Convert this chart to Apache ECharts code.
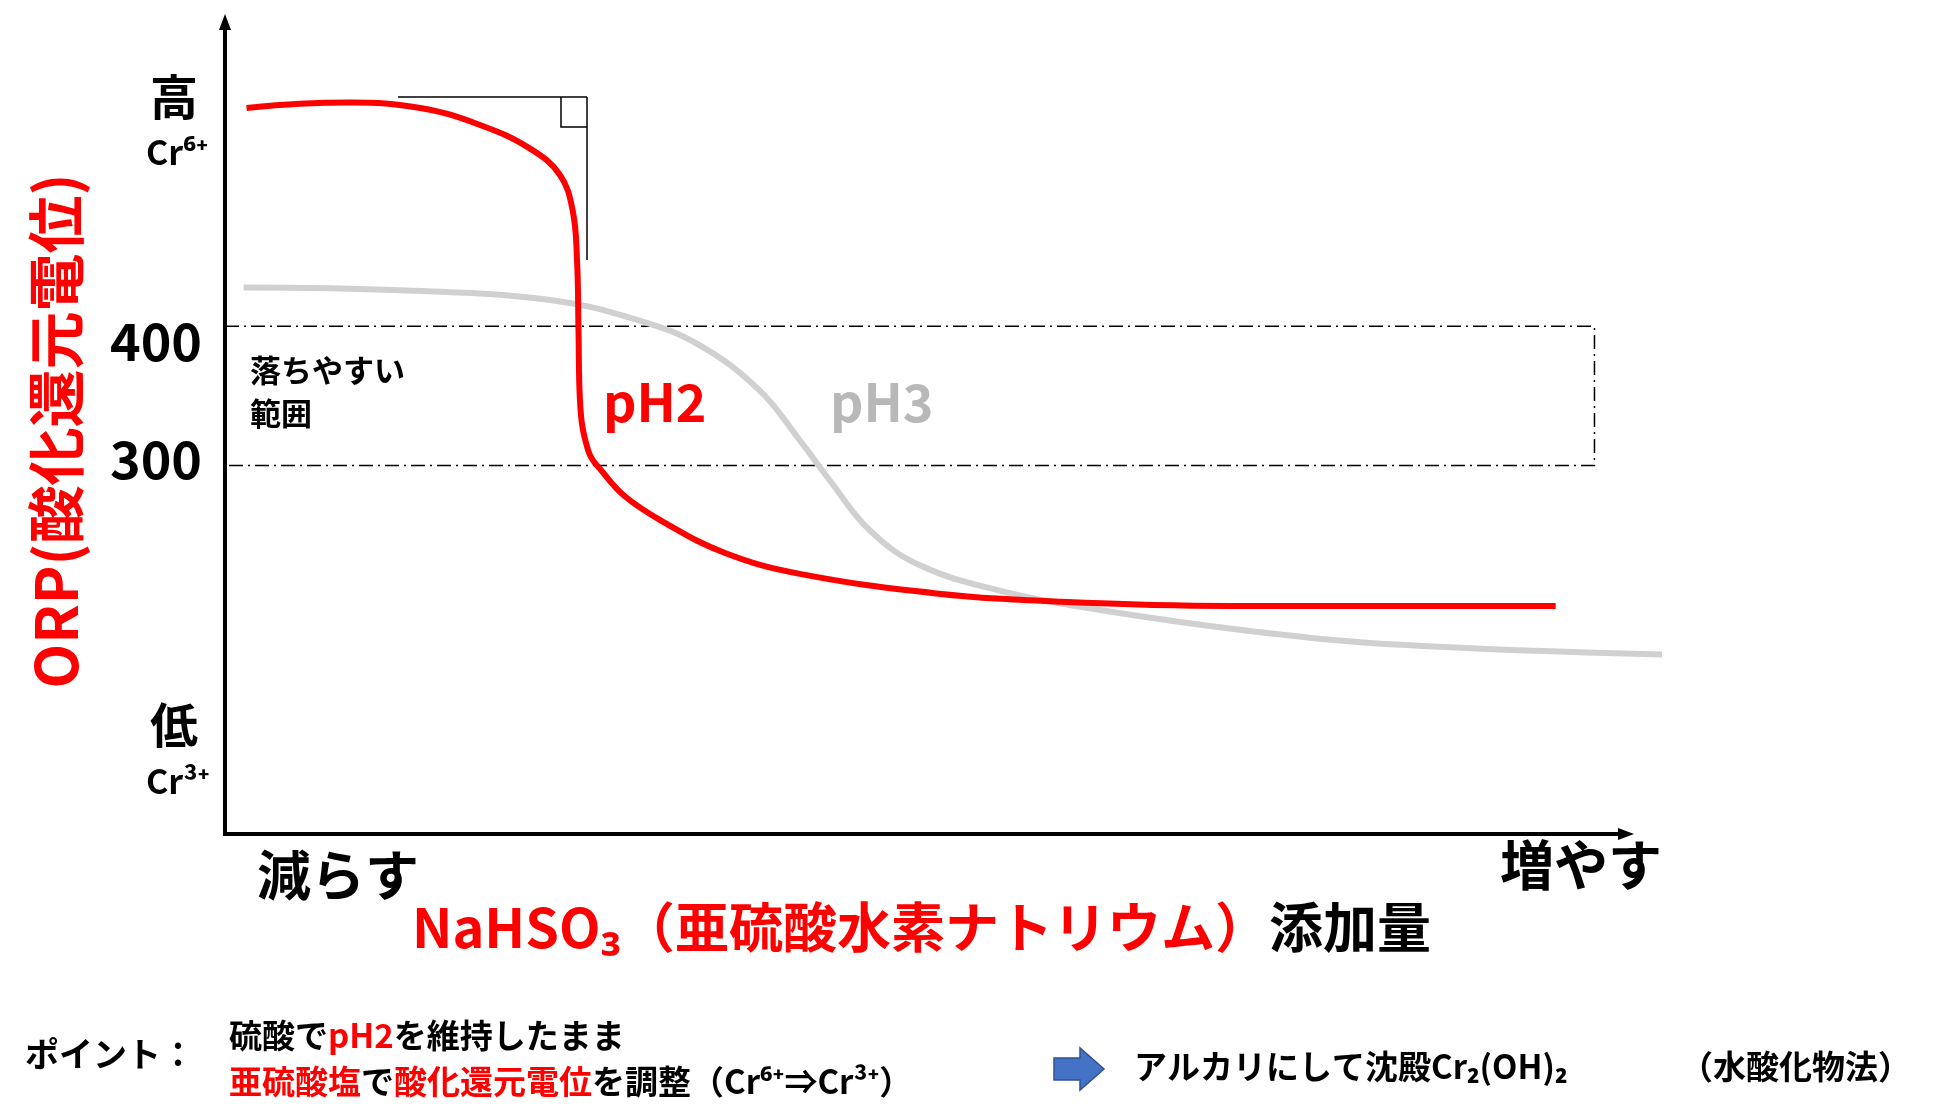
<!DOCTYPE html>
<html><head><meta charset="utf-8">
<script src="https://cdn.jsdelivr.net/npm/echarts@6/dist/echarts.min.js"></script>
<style>html,body{margin:0;padding:0;background:#fff}#c{width:1937px;height:1117px}</style>
</head><body><div id="c"></div>
<script>
const ph2X = [1.5,5.2,8.7,13.6,17.7,21.2,23.3,24.2,24.5,24.6,24.7,25.3,26.3,27.8,30.4,34.8,40.0,49.5,58.2,70.0,92.6];
const ph2Y = [557,560,561,557,545,528,509,483,447,397,347,310,295,278,260,237,222,208,202,199,199];
const ph3X = [1.3,12.2,22.6,28.9,33.1,37.2,40.0,42.1,44.9,48.4,53.9,60.9,71.3,81.8,100];
const ph3Y = [428,426,419,404,386,354,318,289,253,228,210,196,181,171,164];
const rangeLow = 300, rangeHigh = 400, rangeEndX = 95.3;

const F = '"Noto Sans CJK JP", "Noto Sans", sans-serif';
const chart = echarts.init(document.getElementById('c'));
const t = (x,y,text,size,color,extra) => Object.assign({type:'text',x:x,y:y,style:Object.assign({text:text,font:'bold '+size+'px '+F,fill:color||'#000',textAlign:'left',textVerticalAlign:'middle'},extra||{})});
chart.setOption({
  animation:false,
  grid:{left:225,right:275,top:19,bottom:283},
  xAxis:{type:'value',min:0,max:100,show:false},
  yAxis:{type:'value',min:35,max:621,show:false},
  series:[
    {type:'line',data:ph3X.map((x,i)=>[x,ph3Y[i]]),smooth:0.4,symbol:'none',lineStyle:{color:'#d0d0d0',width:6},
     markArea:{silent:true,itemStyle:{color:'rgba(0,0,0,0)',borderColor:'#000',borderWidth:1.5,borderType:[14,5,2,5]},
       data:[[{xAxis:0,yAxis:rangeHigh},{xAxis:rangeEndX,yAxis:rangeLow}]]}},
    {type:'line',data:ph2X.map((x,i)=>[x,ph2Y[i]]),smooth:0.4,symbol:'none',lineStyle:{color:'#ff0000',width:6}}
  ],
  graphic:[
    {type:'line',shape:{x1:225,y1:834,x2:225,y2:22},style:{stroke:'#000',lineWidth:4}},
    {type:'polygon',shape:{points:[[225,14],[219,30],[231,30]]},style:{fill:'#000'}},
    {type:'line',shape:{x1:223,y1:834,x2:1625,y2:834},style:{stroke:'#000',lineWidth:4}},
    {type:'polygon',shape:{points:[[1634,834],[1618,828],[1618,840]]},style:{fill:'#000'}},
    {type:'line',shape:{x1:398,y1:97,x2:587,y2:97},style:{stroke:'#000',lineWidth:1.5}},
    {type:'line',shape:{x1:587,y1:97,x2:587,y2:260},style:{stroke:'#000',lineWidth:1.5}},
    {type:'polyline',shape:{points:[[561,97],[561,127],[587,127]]},style:{stroke:'#000',lineWidth:1.5,fill:null}},
    t(150,97,'高',48),
    t(146,152,'Cr⁶⁺',34),
    t(110,341,'400',52),
    t(110,459,'300',52),
    t(150,725,'低',48),
    t(146,781,'Cr³⁺',34),
    {type:'text',x:56,y:431,rotation:Math.PI/2,style:{text:'ORP(酸化還元電位)',font:'bold 58px '+F,fill:'#ff0000',textAlign:'center',textVerticalAlign:'middle'}},
    t(250,370,'落ちやすい',31),
    t(250,413,'範囲',31),
    t(603,402,'pH2',52,'#ff0000'),
    t(830,402,'pH3',52,'#b8b8b8'),
    t(257,875,'減らす',54),
    t(1500,865,'増やす',54),
    {type:'text',x:412,y:927,style:{text:'{r|NaHSO₃（亜硫酸水素ナトリウム）}{k|添加量}',textVerticalAlign:'middle',
      rich:{r:{font:'bold 54px '+F,fill:'#ff0000'},k:{font:'bold 54px '+F,fill:'#000'}}}},
    t(25,1054,'ポイント：',34),
    {type:'text',x:229,y:1035,style:{text:'{k|硫酸で}{r|pH2}{k|を維持したまま}',textVerticalAlign:'middle',
      rich:{r:{font:'bold 33px '+F,fill:'#ff0000'},k:{font:'bold 33px '+F,fill:'#000'}}}},
    {type:'text',x:229,y:1081,style:{text:'{r|亜硫酸塩}{k|で}{r|酸化還元電位}{k|を調整（Cr⁶⁺⇒Cr³⁺）}',textVerticalAlign:'middle',
      rich:{r:{font:'bold 33px '+F,fill:'#ff0000'},k:{font:'bold 33px '+F,fill:'#000'}}}},
    {type:'polygon',shape:{points:[[1054,1058],[1080,1058],[1080,1048],[1104,1069],[1080,1090],[1080,1080],[1054,1080]]},style:{fill:'#4472c4',stroke:'#2f528f',lineWidth:1.5}},
    t(1134,1066,'アルカリにして沈殿Cr₂(OH)₂',33),
    t(1680,1066,'（水酸化物法）',33)
  ]
});
</script></body></html>
